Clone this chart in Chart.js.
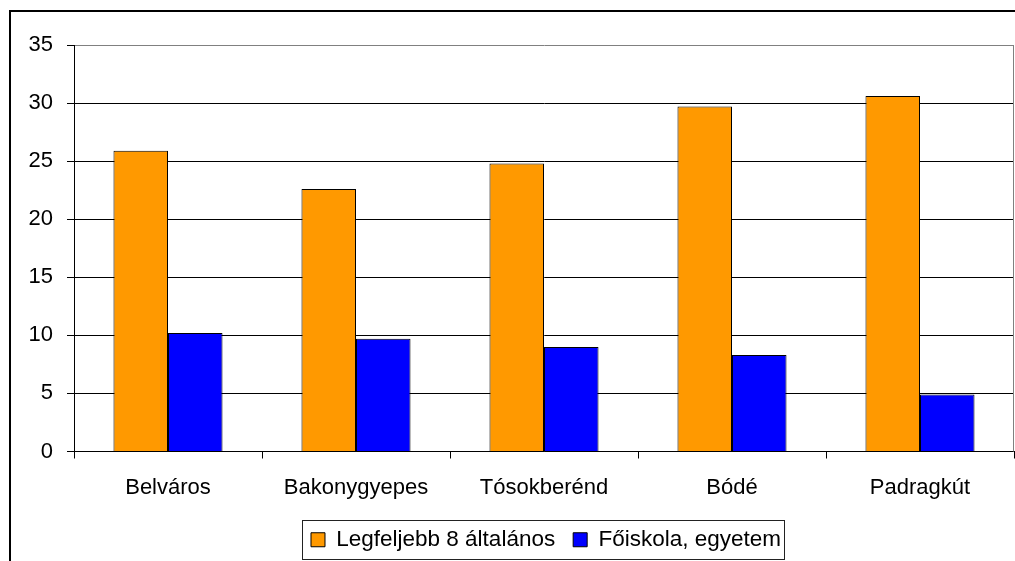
<!DOCTYPE html>
<html>
<head>
<meta charset="utf-8">
<script src="https://cdn.jsdelivr.net/npm/chart.js@4/dist/chart.umd.min.js"></script>
<style>
  body { margin: 0; background: #fff; }
  canvas { display: block; }
</style>
</head>
<body>
<canvas id="myChart" width="1015" height="561"></canvas>
<script>
const labels = ['Belváros', 'Bakonygyepes', 'Tósokberénd', 'Bódé', 'Padragkút'];
const seriesNames = ['Legfeljebb 8 általános', 'Főiskola, egyetem'];
const alapfok = [25.9, 22.6, 24.8, 29.7, 30.6];
const felsofok = [10.2, 9.7, 9.0, 8.3, 4.9];
const yTicks = [0, 5, 10, 15, 20, 25, 30, 35];

Chart.defaults.font.family = "'Liberation Sans', Arial, sans-serif";
Chart.defaults.font.size = 22;
Chart.defaults.color = '#000';

// keret a diagram korul, a jobb oldali szegely es a jelmagyarazat doboza
const framePlugin = {
  id: 'frame',
  afterLayout(chart) {
    // a jelmagyarazat kicsit jobbra van az eredetin
    if (chart.legend) chart.legend.left += 78;
  },
  beforeDraw(chart) {
    const c = chart.ctx;
    c.save();
    c.fillStyle = '#fff';
    c.fillRect(0, 0, chart.width, chart.height);
    c.fillStyle = '#000';
    c.fillRect(9, 10, 2, chart.height - 10);
    c.fillRect(9, 10, chart.width - 9, 2);
    c.restore();
  },
  afterDraw(chart) {
    const c = chart.ctx;
    const a = chart.chartArea;
    c.save();
    c.strokeStyle = '#808080';
    c.lineWidth = 1;
    c.beginPath();
    c.moveTo(a.right - 0.5, a.top);
    c.lineTo(a.right - 0.5, a.bottom);
    c.stroke();
    const hb = chart.legend.legendHitBoxes;
    if (hb && hb.length) {
      const first = hb[0], last = hb[hb.length - 1];
      const cy = first.top + first.height / 2;
      c.strokeStyle = '#222';
      c.strokeRect(Math.round(first.left - 9) + 0.5, Math.round(cy - 20) + 0.5,
        Math.round(last.left + last.width - first.left + 12), 39);
    }
    c.restore();
  }
};

const data = {
  labels: labels,
  datasets: [{
    label: seriesNames[0],
    backgroundColor: 'rgb(255, 153, 0)',
    borderColor: '#000',
    borderWidth: 1,
    data: alapfok
  }, {
    label: seriesNames[1],
    backgroundColor: 'rgb(0, 0, 255)',
    borderColor: '#000',
    borderWidth: 1,
    data: felsofok
  }]
};

const config = {
  type: 'bar',
  data: data,
  plugins: [framePlugin],
  options: {
    responsive: false,
    animation: false,
    categoryPercentage: 0.58,
    barPercentage: 1.0,
    layout: { padding: { top: 45, right: 1, left: 0, bottom: 0 } },
    plugins: {
      tooltip: { enabled: false },
      legend: {
        position: 'bottom',
        labels: {
          boxWidth: 14,
          boxHeight: 14,
          padding: 18,
          color: '#000',
          font: { size: 22.5 }
        }
      }
    },
    scales: {
      x: {
        grid: {
          offset: true,
          drawOnChartArea: false,
          drawTicks: true,
          tickLength: 7,
          color: '#000'
        },
        border: { display: true, color: '#000' },
        ticks: { padding: 16, color: '#000' },
        afterFit(scale) { scale.height = 59; }
      },
      y: {
        min: 0,
        max: 35,
        afterBuildTicks(scale) { scale.ticks = yTicks.map(v => ({ value: v })); },
        grid: {
          color: ctx => (ctx.tick && ctx.tick.value === 35 ? '#808080' : '#000'),
          tickColor: '#000',
          tickLength: 7
        },
        border: { display: true, color: '#000' },
        ticks: { padding: 14, color: '#000' },
        afterFit(scale) { scale.width = 74; }
      }
    }
  }
};

const myChart = new Chart(document.getElementById('myChart'), config);
</script>
</body>
</html>
